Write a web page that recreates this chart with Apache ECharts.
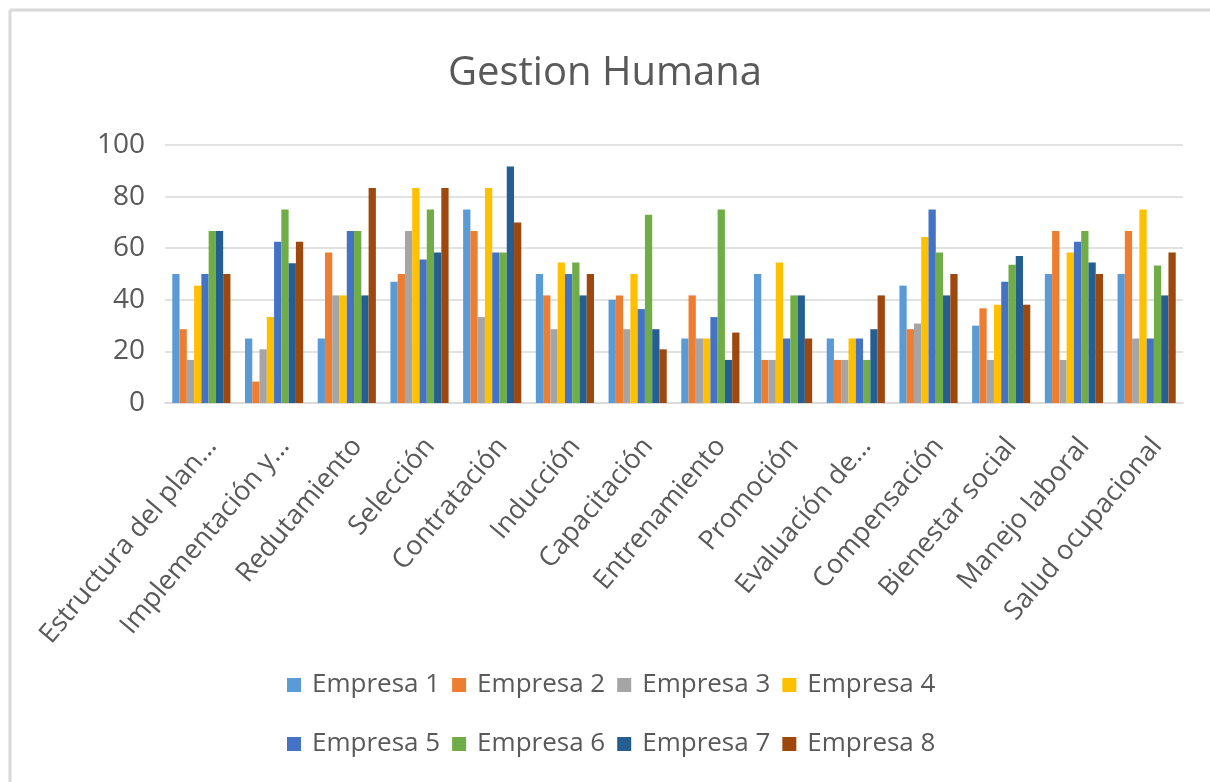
<!DOCTYPE html>
<html>
<head>
<meta charset="utf-8">
<script src="https://cdn.jsdelivr.net/npm/echarts@6/dist/echarts.min.js"></script>
<style>html,body{margin:0;padding:0;background:#fff;}#c{width:1210px;height:782px;}</style>
</head>
<body>
<div id="c"></div>
<script>
var categories = ["Estructura del plan…", "Implementación y…", "Redutamiento", "Selección", "Contratación", "Inducción", "Capacitación", "Entrenamiento", "Promoción", "Evaluación de…", "Compensación", "Bienestar social", "Manejo laboral", "Salud ocupacional"];
var seriesNames = ["Empresa 1", "Empresa 2", "Empresa 3", "Empresa 4", "Empresa 5", "Empresa 6", "Empresa 7", "Empresa 8"];
var empresa1 = [50, 25, 25, 47, 75, 50, 40, 25, 50, 25, 45.5, 30, 50, 50];
var empresa2 = [28.6, 8.3, 58.3, 50, 66.7, 41.7, 41.7, 41.7, 16.7, 16.7, 28.6, 36.7, 66.7, 66.7];
var empresa3 = [16.7, 20.8, 41.7, 66.7, 33.3, 28.6, 28.6, 25, 16.7, 16.7, 30.8, 16.7, 16.7, 25];
var empresa4 = [45.5, 33.3, 41.7, 83.3, 83.3, 54.5, 50, 25, 54.5, 25, 64.3, 38.1, 58.3, 75];
var empresa5 = [50, 62.5, 66.7, 55.6, 58.3, 50, 36.4, 33.3, 25, 25, 75, 47, 62.5, 25];
var empresa6 = [66.7, 75, 66.7, 75, 58.3, 54.5, 73, 75, 41.7, 16.7, 58.3, 53.6, 66.7, 53.3];
var empresa7 = [66.7, 54.2, 41.7, 58.3, 91.7, 41.7, 28.6, 16.7, 41.7, 28.6, 41.7, 57, 54.5, 41.7];
var empresa8 = [50, 62.5, 83.3, 83.3, 70, 50, 20.8, 27.3, 25, 41.7, 50, 38.1, 50, 58.3];
var yTicks = [0, 20, 40, 60, 80, 100];

var allData = [empresa1, empresa2, empresa3, empresa4, empresa5, empresa6, empresa7, empresa8];
var colors = ["#5B9BD5", "#ED7D31", "#A5A5A5", "#FFC000", "#4472C4", "#70AD47", "#255E91", "#9E480E"];
var FONT = "Open Sans";
var TXT = "#595959";

var chart = echarts.init(document.getElementById('c'));
var series = seriesNames.map(function (n, i) {
  return {
    name: n, type: 'bar', data: allData[i], barGap: '0%', barCategoryGap: '20%',
    itemStyle: { color: colors[i] }
  };
});
var legendCommon = {
  left: 282, itemWidth: 14, itemHeight: 14, itemGap: 12, icon: 'rect',
  selectedMode: false,
  textStyle: { color: TXT, fontSize: 26, fontFamily: FONT, padding: [0, 0, 0, 6] }
};
chart.setOption({
  backgroundColor: '#fff',
  animation: false,
  color: colors,
  title: {
    text: 'Gestion Humana', left: 'center', top: 49,
    textStyle: { color: TXT, fontSize: 40, fontWeight: 'normal', fontFamily: FONT }
  },
  graphic: [
    { type: 'line', shape: { x1: 10, y1: 10, x2: 10, y2: 782 }, style: { stroke: '#d9d9d9', lineWidth: 3 } },
    { type: 'line', shape: { x1: 10, y1: 10, x2: 1210, y2: 10 }, style: { stroke: '#d9d9d9', lineWidth: 3 } }
  ],
  legend: [
    Object.assign({ top: 667, data: seriesNames.slice(0, 4) }, legendCommon),
    Object.assign({ top: 726, data: seriesNames.slice(4, 8) }, legendCommon)
  ],
  grid: { left: 165, right: 27, top: 145, bottom: 379, containLabel: false },
  xAxis: {
    type: 'category', data: categories,
    axisLine: { lineStyle: { color: '#d9d9d9', width: 1.5 } },
    axisTick: { show: false },
    axisLabel: { rotate: 50, interval: 0, color: TXT, fontSize: 27, fontFamily: FONT, margin: 30, verticalAlign: 'top' }
  },
  yAxis: {
    type: 'value', min: yTicks[0], max: yTicks[yTicks.length - 1], interval: 20,
    axisLine: { show: false }, axisTick: { show: false },
    splitLine: { lineStyle: { color: '#d9d9d9', width: 1.5 } },
    axisLabel: { color: TXT, fontSize: 28, fontFamily: FONT, margin: 20 }
  },
  series: series
});
</script>
</body>
</html>
